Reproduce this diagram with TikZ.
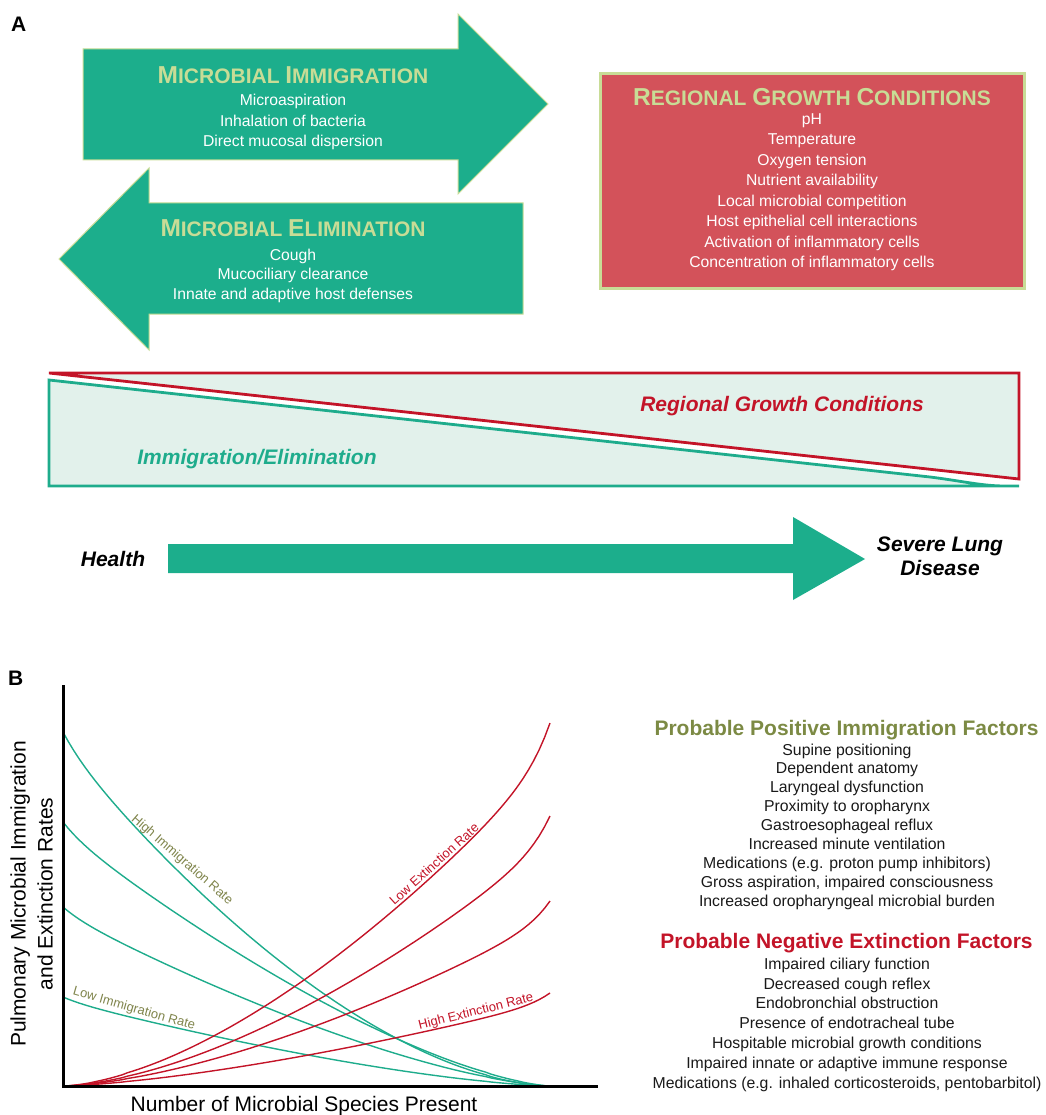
\documentclass[tikz,border=0pt]{standalone}
\usepackage{fontspec}
\setmainfont{Liberation Sans}
\usepackage{tikz}

\definecolor{arrowteal}{RGB}{28,174,140}
\definecolor{titlegreen}{RGB}{200,220,150}
\definecolor{boxred}{RGB}{211,82,90}
\definecolor{linered}{RGB}{195,20,40}
\definecolor{lineteal}{RGB}{30,172,140}
\definecolor{panelfill}{RGB}{226,241,235}
\definecolor{olivetext}{RGB}{124,138,68}
\definecolor{curvelabel}{RGB}{128,133,76}
\definecolor{factorblack}{RGB}{25,25,25}

\newcommand{\capword}[2]{{\fontsize{24.5}{28}\selectfont #1}#2}

\begin{document}
\begin{tikzpicture}[
  x = 1pt,
  y = -1pt,
  big arrow/.style={
    fill = arrowteal,
    draw = titlegreen,
    line width = 1pt,
  },
  box title/.style={
    anchor = base, inner sep = 0pt, text = titlegreen,
    font = \fontsize{21}{24}\selectfont\bfseries,
  },
  box item/.style={
    anchor = base, inner sep = 0pt, text = white,
    font = \fontsize{15.7}{18}\selectfont,
  },
  slant label/.style={
    inner sep = 0pt,
    font = \fontsize{21}{24.3}\selectfont\bfseries\itshape,
  },
  panel letter/.style={
    anchor = base west, inner sep = 0pt,
    font = \fontsize{21}{24}\selectfont\bfseries,
  },
  rate curve/.style={
    line width = 1.4pt,
  },
  rate label/.style={
    inner sep = 0pt,
    font = \fontsize{13}{15}\selectfont,
  },
  factor head/.style={
    anchor = base, inner sep = 0pt,
    font = \fontsize{21}{24}\selectfont\bfseries,
  },
  factor item/.style={
    anchor = base, inner sep = 0pt, text = factorblack,
    font = \fontsize{15.8}{18}\selectfont,
  },
  ]
  \useasboundingbox (0,0) rectangle (1045,1115);

  % panel A
  \node [panel letter] (node-letter-a) at (11,32) {A};

  \path [big arrow] (83,49) -- (458,49) -- (458,14) -- (548,104)
    -- (458,194) -- (458,160) -- (83,160) -- cycle;
  \node [box title] (node-immigration) at (293,84)
    {\capword{M}{ICROBIAL} \capword{I}{MMIGRATION}};
  \foreach \entry [count=\i] in {Microaspiration, Inhalation of bacteria,
    Direct mucosal dispersion}
    \node [box item] (node-immigration-\i) at (293,{106+20.3*(\i-1)}) {\entry};

  \path [big arrow] (523,203) -- (149,203) -- (149,168) -- (59,259)
    -- (149,350) -- (149,314) -- (523,314) -- cycle;
  \node [box title] (node-elimination) at (293,236.7)
    {\capword{M}{ICROBIAL} \capword{E}{LIMINATION}};
  \foreach \entry [count=\i] in {Cough, Mucociliary clearance,
    Innate and adaptive host defenses}
    \node [box item] (node-elimination-\i) at (293,{260+19.5*(\i-1)}) {\entry};

  \path [fill = boxred, draw = titlegreen, line width = 3pt]
    (600,74) rectangle (1024,288);
  \node [box title] (node-growth) at (812,105.7)
    {\capword{R}{EGIONAL} \capword{G}{ROWTH} \capword{C}{ONDITIONS}};
  \foreach \entry [count=\i] in {pH, Temperature, Oxygen tension,
    Nutrient availability, Local microbial competition,
    Host epithelial cell interactions, Activation of inflammatory cells,
    Concentration of inflammatory cells}
    \node [box item] (node-growth-\i) at (812,{124.5+20.43*(\i-1)}) {\entry};

  % balance panel
  \fill [panelfill] (49,373) -- (1019,373) -- (1019,479) -- cycle;
  \fill [panelfill] (49,380) -- (930,477) .. controls (962,481) and (982,486) ..
    (1005,486) -- (1019,486) -- (49,486) -- cycle;
  \draw [lineteal, line width = 2.8pt] (1019,486) -- (49,486) -- (49,380)
    -- (930,477) .. controls (962,481) and (982,486) .. (1005,486);
  \draw [linered, line width = 2.8pt, line join = miter]
    (49,373) -- (1019,373) -- (1019,479) -- cycle;
  \node [slant label, anchor = base, text = linered] (node-growth-label)
    at (782,411.7) {Regional Growth Conditions};
  \node [slant label, anchor = base, text = lineteal] (node-balance-label)
    at (257,464) {Immigration/Elimination};

  \fill [arrowteal] (168,544) -- (793,544) -- (793,517) -- (865,559)
    -- (793,600) -- (793,573) -- (168,573) -- cycle;
  \node [slant label, anchor = base] (node-health) at (113,566) {Health};
  \node [slant label, align = center] (node-disease) at (940,556.4)
    {Severe Lung\\Disease};

  % panel B
  \node [panel letter] (node-letter-b) at (8,685) {B};

  \foreach \amp/\pw in {354/1.7, 264/1.45, 179/1.45, 89/1.45}
    \draw [rate curve, lineteal] plot [domain = 0:0.99, samples = 90]
      ({63+487*\x},{1086-\amp*(0.96*(1-\x)^\pw+0.04*(1-\x)^24)}) -- (550,1086);
  \foreach \amp/\pw in {363/1.6, 270/1.6, 185/1.55, 93/1.45}
    \draw [rate curve, linered] (63,1086) -- plot [domain = 0.01:1, samples = 90]
      ({63+487*\x},{1086-\amp*(0.9*\x^\pw+0.1*\x^24)});

  \coordinate (axis-top) at (63,685);
  \coordinate (axis-origin) at (63,1086);
  \coordinate (axis-right) at (598,1086);
  \draw [line width = 3pt] (axis-top) -- (axis-origin) -- (axis-right);

  \node [rate label, text = curvelabel, rotate = -41] (node-high-immigration)
    at (182,860) {High Immigration Rate};
  \node [rate label, text = curvelabel, rotate = -16] (node-low-immigration)
    at (134,1009) {Low Immigration Rate};
  \node [rate label, text = linered, rotate = 42] (node-low-extinction)
    at (434,864) {Low Extinction Rate};
  \node [rate label, text = linered, rotate = 14] (node-high-extinction)
    at (476,1012) {High Extinction Rate};

  \node [anchor = base, inner sep = 0pt, font = \fontsize{21}{24}\selectfont]
    (node-x-label) at (304,1111) {Number of Microbial Species Present};
  \node [inner sep = 0pt, align = center, rotate = 90,
    font = \fontsize{21}{27}\selectfont] (node-y-label) at (31.5,894)
    {Pulmonary Microbial Immigration\\and Extinction Rates};

  % factor lists
  \node [factor head, text = olivetext] (node-positive) at (846.5,735)
    {Probable Positive Immigration Factors};
  \foreach \entry [count=\i] in {Supine positioning, Dependent anatomy,
    Laryngeal dysfunction, Proximity to oropharynx, Gastroesophageal reflux,
    Increased minute ventilation, {Medications (e.g. proton pump inhibitors)},
    {Gross aspiration, impaired consciousness},
    Increased oropharyngeal microbial burden}
    \node [factor item] (node-positive-\i) at (847,{755+18.96*(\i-1)}) {\entry};

  \node [factor head, text = linered] (node-negative) at (846.5,948.3)
    {Probable Negative Extinction Factors};
  \foreach \entry [count=\i] in {Impaired ciliary function,
    Decreased cough reflex, Endobronchial obstruction,
    Presence of endotracheal tube, Hospitable microbial growth conditions,
    Impaired innate or adaptive immune response,
    {Medications (e.g. inhaled corticosteroids, pentobarbitol)}}
    \node [factor item] (node-negative-\i) at (847,{969.3+19.83*(\i-1)}) {\entry};
\end{tikzpicture}
\end{document}
